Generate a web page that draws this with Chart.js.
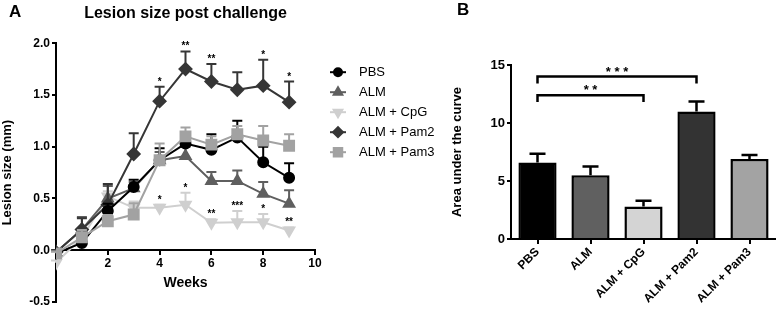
<!DOCTYPE html>
<html>
<head>
<meta charset="utf-8">
<script src="https://cdn.jsdelivr.net/npm/chart.js@4.4.0/dist/chart.umd.min.js"></script>
<style>
  body { margin: 0; background: #fff; }
  #wrap { position: relative; width: 776px; height: 312px; overflow: hidden; }
  #lesion { position: absolute; left: 0; top: 0; }
  #auc { position: absolute; left: 450px; top: 0; }
</style>
</head>
<body>
<div id="wrap">
  <canvas id="lesion" width="450" height="312"></canvas>
  <canvas id="auc" width="326" height="312"></canvas>
</div>
<script>
// panel A: lesion size by week
var weeks = [0, 1, 2, 3, 4, 5, 6, 7, 8, 9];

var pbs     = [-0.03, 0.07, 0.38, 0.61, 0.87, 1.03, 0.97, 1.09, 0.85, 0.70];
var pbsErr  = [0.02, 0.03, 0.07, 0.07, 0.115, 0.07, 0.15, 0.16, 0.15, 0.14];
var alm     = [-0.02, 0.20, 0.50, 0.60, 0.87, 0.91, 0.67, 0.67, 0.545, 0.45];
var almErr  = [0.02, 0.12, 0.12, 0.06, 0.08, 0.09, 0.085, 0.10, 0.115, 0.13];
var cpg     = [-0.12, 0.12, 0.52, 0.41, 0.41, 0.44, 0.265, 0.27, 0.27, 0.19];
var cpgErr  = [0.02, 0.06, 0.05, 0.06, 0.03, 0.115, 0.035, 0.11, 0.08, 0.03];
var pam2    = [-0.02, 0.20, 0.44, 0.93, 1.44, 1.75, 1.63, 1.55, 1.59, 1.43];
var pam2Err = [0.02, 0.11, 0.20, 0.20, 0.14, 0.17, 0.17, 0.17, 0.25, 0.20];
var pam3    = [-0.03, 0.125, 0.28, 0.345, 0.87, 1.10, 1.02, 1.12, 1.06, 1.01];
var pam3Err = [0.02, 0.07, 0.06, 0.11, 0.16, 0.085, 0.08, 0.08, 0.14, 0.11];

var cpgStars  = ['', '', '', '', '*', '*', '**', '***', '*', '**'];
var pam2Stars = ['', '', '', '', '*', '**', '**', '', '*', '*'];

// panel B: area under the curve
var groups = ['PBS', 'ALM', 'ALM + CpG', 'ALM + Pam2', 'ALM + Pam3'];
var auc    = [6.6, 5.5, 2.8, 11.0, 6.9];
var aucErr = [0.75, 0.75, 0.5, 0.85, 0.35];
var comparisons = [[0, 3, '***', 14.0], [0, 2, '**', 12.4]];

var FONT = "'Liberation Sans', Arial, Helvetica, sans-serif";
Chart.defaults.font.family = FONT;
Chart.defaults.color = '#000';

function pts(vals) {
  return weeks.map(function (w, i) { return { x: w, y: vals[i] }; });
}

function line(label, vals, err, color, style, rot, r, order, stars) {
  return {
    label: label, data: pts(vals), err: err, stars: stars,
    borderColor: color, backgroundColor: color,
    pointBackgroundColor: color, pointBorderColor: color,
    pointStyle: style, pointRotation: rot, pointRadius: r,
    borderWidth: 2, tension: 0, order: order
  };
}

// upward error bars + significance stars
var errorBars = {
  id: 'errorBars',
  beforeDatasetDraw: function (chart, args) {
    var ds = chart.data.datasets[args.index];
    if (!ds.err) return;
    var ys = chart.scales.y, ctx = chart.ctx;
    ctx.save();
    ctx.strokeStyle = ds.borderColor;
    ctx.lineWidth = 2;
    args.meta.data.forEach(function (pt, i) {
      var top = ys.getPixelForValue(ds.data[i].y + ds.err[i]);
      ctx.beginPath();
      ctx.moveTo(pt.x, pt.y); ctx.lineTo(pt.x, top);
      ctx.moveTo(pt.x - 5, top); ctx.lineTo(pt.x + 5, top);
      ctx.stroke();
      if (ds.stars && ds.stars[i]) {
        ctx.fillStyle = '#000';
        ctx.font = 'bold 10px ' + FONT;
        ctx.textAlign = 'center';
        ctx.textBaseline = 'alphabetic';
        ctx.fillText(ds.stars[i], pt.x, top - 2);
      }
    });
    ctx.restore();
  }
};

var lineLegend = {
  id: 'lineLegend',
  afterDraw: function (chart) {
    var a = chart.chartArea, ctx = chart.ctx;
    chart.data.datasets.forEach(function (ds, i) {
      var x = a.right + 23, y = a.top + 29 + i * 20;
      ctx.save();
      ctx.strokeStyle = ds.borderColor;
      ctx.fillStyle = ds.borderColor;
      ctx.lineWidth = 2;
      ctx.beginPath(); ctx.moveTo(x - 8, y); ctx.lineTo(x + 8, y); ctx.stroke();
      Chart.helpers.drawPoint(ctx, {
        pointStyle: ds.pointStyle, rotation: ds.pointRotation,
        radius: ds.pointRadius - 1, borderWidth: 1
      }, x, y);
      ctx.fillStyle = '#000';
      ctx.font = '13px ' + FONT;
      ctx.textAlign = 'left';
      ctx.textBaseline = 'middle';
      ctx.fillText(ds.label, x + 21, y);
      ctx.restore();
    });
  }
};

var panelLetter = {
  id: 'panelLetter',
  afterDraw: function (chart, args, opts) {
    var ctx = chart.ctx;
    ctx.save();
    ctx.fillStyle = '#000';
    ctx.font = 'bold 17px ' + FONT;
    ctx.textAlign = 'left';
    ctx.textBaseline = 'middle';
    ctx.fillText(opts.text, opts.x, opts.y);
    ctx.restore();
  }
};

var axisGrid = { drawOnChartArea: false, color: '#000', lineWidth: 2, tickLength: 5 };
var axisBorder = { color: '#000', width: 2 };

new Chart(document.getElementById('lesion'), {
  type: 'line',
  data: {
    datasets: [
      line('PBS', pbs, pbsErr, '#000000', 'circle', 0, 5, 2),
      line('ALM', alm, almErr, '#5f5f5f', 'triangle', 0, 6, 4),
      line('ALM + CpG', cpg, cpgErr, '#cfcfcf', 'triangle', 180, 6, 5, cpgStars),
      line('ALM + Pam2', pam2, pam2Err, '#363636', 'rectRot', 0, 6, 3, pam2Stars),
      line('ALM + Pam3', pam3, pam3Err, '#a2a2a2', 'rect', 0, 7, 1)
    ]
  },
  options: {
    responsive: false,
    animation: false,
    layout: { padding: { left: 0, right: 135, top: 0, bottom: 10 } },
    plugins: {
      legend: { display: false },
      tooltip: { enabled: false },
      title: {
        display: true, fullSize: false,
        text: 'Lesion size post challenge',
        font: { size: 16, weight: 'bold' },
        padding: { top: 4, bottom: 20 }
      },
      panelLetter: { text: 'A', x: 9, y: 12 }
    },
    scales: {
      x: {
        type: 'linear', min: 0, max: 10, position: { y: 0 },
        ticks: {
          stepSize: 2, padding: 2,
          font: { size: 12, weight: 'bold' },
          callback: function (v) { return v === 0 ? '' : v; }
        },
        grid: Object.assign({}, axisGrid, { tickLength: 4 }),
        border: axisBorder,
        title: { display: true, text: 'Weeks', font: { size: 14, weight: 'bold' }, padding: { top: 2 } }
      },
      y: {
        min: -0.5, max: 2.0,
        ticks: {
          stepSize: 0.5, padding: 2,
          font: { size: 12, weight: 'bold' },
          callback: function (v) { return v.toFixed(1); }
        },
        grid: Object.assign({}, axisGrid, { tickLength: 4 }),
        border: axisBorder,
        title: { display: true, text: 'Lesion size (mm)', font: { size: 13, weight: 'bold' }, padding: 0 },
        afterFit: function (s) { s.width = 56; }
      }
    }
  },
  plugins: [errorBars, lineLegend, panelLetter]
});

// bar error bars and comparison brackets
var barExtras = {
  id: 'barExtras',
  afterDatasetsDraw: function (chart) {
    var ctx = chart.ctx, xs = chart.scales.x, ys = chart.scales.y;
    var ds = chart.data.datasets[0];
    ctx.save();
    ctx.strokeStyle = '#000';
    ctx.lineWidth = 2.5;
    chart.getDatasetMeta(0).data.forEach(function (bar, i) {
      var top = ys.getPixelForValue(ds.data[i] + ds.err[i]);
      ctx.beginPath();
      ctx.moveTo(bar.x, bar.y); ctx.lineTo(bar.x, top);
      ctx.moveTo(bar.x - 8, top); ctx.lineTo(bar.x + 8, top);
      ctx.stroke();
    });
    comparisons.forEach(function (c) {
      var x1 = xs.getPixelForValue(c[0]), x2 = xs.getPixelForValue(c[1]);
      var y = ys.getPixelForValue(c[3]), y0 = ys.getPixelForValue(c[3] - 0.6);
      ctx.beginPath();
      ctx.moveTo(x1, y0); ctx.lineTo(x1, y); ctx.lineTo(x2, y); ctx.lineTo(x2, y0);
      ctx.stroke();
      ctx.fillStyle = '#000';
      ctx.font = 'bold 13px ' + FONT;
      ctx.textAlign = 'center';
      ctx.textBaseline = 'alphabetic';
      ctx.fillText(c[2].split('').join(' '), (x1 + x2) / 2, y - 1);
    });
    ctx.restore();
  }
};

new Chart(document.getElementById('auc'), {
  type: 'bar',
  data: {
    labels: groups,
    datasets: [{
      data: auc, err: aucErr,
      backgroundColor: ['#000000', '#606060', '#d4d4d4', '#333333', '#a3a3a3'],
      borderColor: '#000', borderWidth: 2.5,
      barPercentage: 0.72, categoryPercentage: 1
    }]
  },
  options: {
    responsive: false,
    animation: false,
    layout: { padding: { left: 0, right: 0, top: 65, bottom: 0 } },
    plugins: {
      legend: { display: false },
      tooltip: { enabled: false },
      panelLetter: { text: 'B', x: 7, y: 10 }
    },
    scales: {
      x: {
        ticks: { minRotation: 45, maxRotation: 45, padding: 1, font: { size: 12, weight: 'bold' } },
        grid: Object.assign({}, axisGrid, { offset: false }),
        border: axisBorder,
        afterFit: function (s) { s.height = 73; }
      },
      y: {
        min: 0, max: 15,
        ticks: { stepSize: 5, padding: 2, font: { size: 13, weight: 'bold' } },
        grid: Object.assign({}, axisGrid, { tickLength: 4 }),
        border: axisBorder,
        title: { display: true, text: 'Area under the curve', font: { size: 13, weight: 'bold' }, padding: 0 },
        afterFit: function (s) { s.width = 61; }
      }
    }
  },
  plugins: [barExtras, panelLetter]
});
</script>
</body>
</html>
